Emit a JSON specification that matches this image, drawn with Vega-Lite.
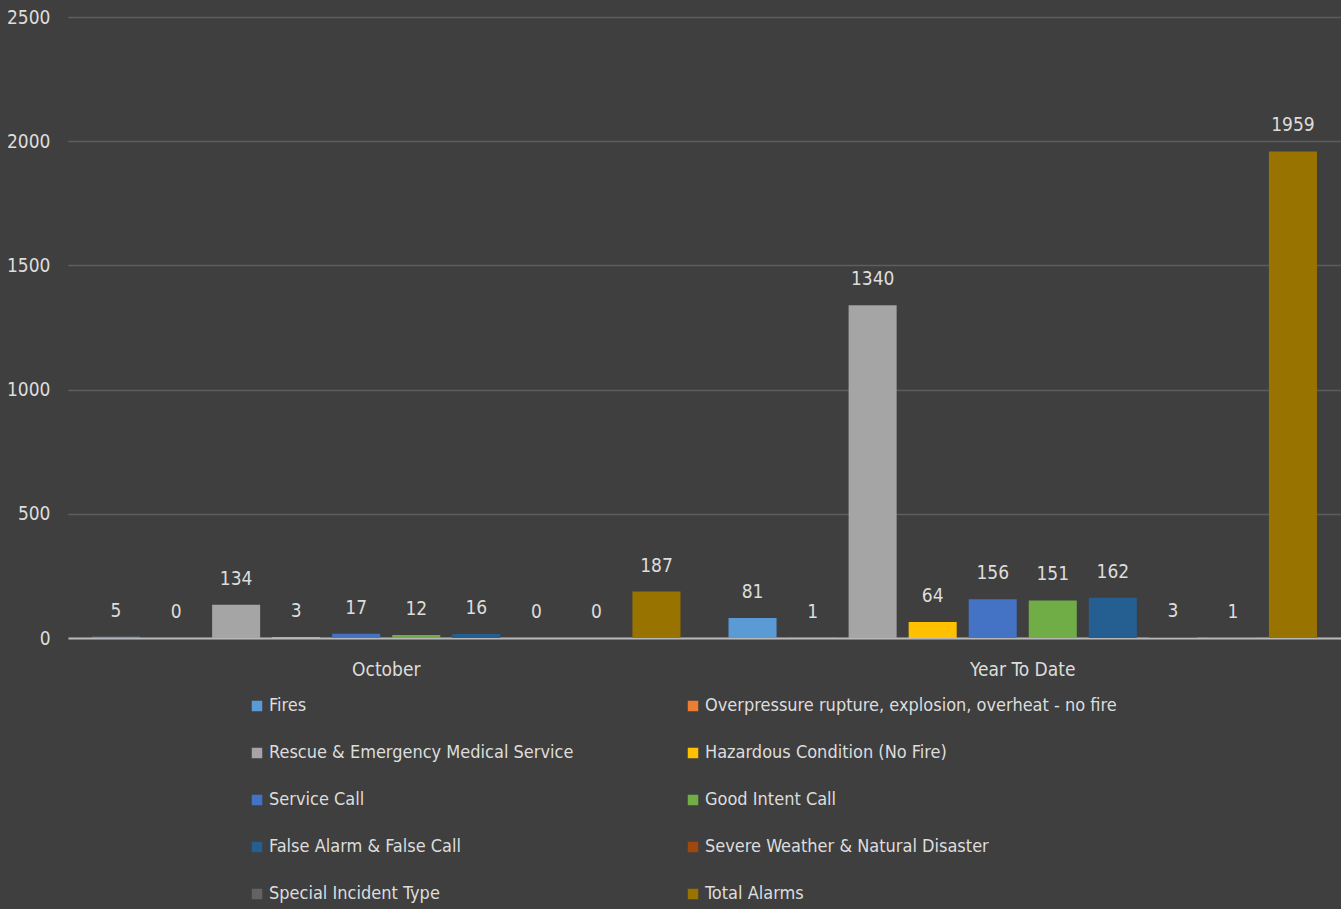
{
  "$schema": "https://vega.github.io/schema/vega-lite/v6.json",
  "autosize": {"type": "none"},
  "width": 1273,
  "height": 621,
  "padding": {"left": 68, "top": 17, "right": 0, "bottom": 271},
  "background": "#3f3f3f",
  "config": {
    "view": {"stroke": null},
    "font": "DejaVu Sans Condensed, sans-serif",
    "axis": {"labelFont": "DejaVu Sans Condensed, sans-serif"},
    "legend": {"labelFont": "DejaVu Sans Condensed, sans-serif"}
  },
  "data": {
    "values": [
      {"period": "October", "type": "Fires", "value": 5},
      {"period": "October", "type": "Overpressure rupture, explosion, overheat - no fire", "value": 0},
      {"period": "October", "type": "Rescue & Emergency Medical Service", "value": 134},
      {"period": "October", "type": "Hazardous Condition (No Fire)", "value": 3},
      {"period": "October", "type": "Service Call", "value": 17},
      {"period": "October", "type": "Good Intent Call", "value": 12},
      {"period": "October", "type": "False Alarm & False Call", "value": 16},
      {"period": "October", "type": "Severe Weather & Natural Disaster", "value": 0},
      {"period": "October", "type": "Special Incident Type", "value": 0},
      {"period": "October", "type": "Total Alarms", "value": 187},
      {"period": "Year To Date", "type": "Fires", "value": 81},
      {"period": "Year To Date", "type": "Overpressure rupture, explosion, overheat - no fire", "value": 1},
      {"period": "Year To Date", "type": "Rescue & Emergency Medical Service", "value": 1340},
      {"period": "Year To Date", "type": "Hazardous Condition (No Fire)", "value": 64},
      {"period": "Year To Date", "type": "Service Call", "value": 156},
      {"period": "Year To Date", "type": "Good Intent Call", "value": 151},
      {"period": "Year To Date", "type": "False Alarm & False Call", "value": 162},
      {"period": "Year To Date", "type": "Severe Weather & Natural Disaster", "value": 3},
      {"period": "Year To Date", "type": "Special Incident Type", "value": 1},
      {"period": "Year To Date", "type": "Total Alarms", "value": 1959}
    ]
  },
  "encoding": {
    "x": {
      "field": "period", "type": "nominal",
      "scale": {"paddingInner": 0, "paddingOuter": 0},
      "axis": {
        "title": null, "labelAngle": 0, "labelFontSize": 19, "labelColor": "#dddddd",
        "ticks": false, "domainColor": "#b8b8b8", "domainWidth": 2, "labelPadding": 22
      }
    },
    "xOffset": {
      "field": "type", "type": "nominal",
      "sort": ["Fires", "Overpressure rupture, explosion, overheat - no fire", "Rescue & Emergency Medical Service", "Hazardous Condition (No Fire)", "Service Call", "Good Intent Call", "False Alarm & False Call", "Severe Weather & Natural Disaster", "Special Incident Type", "Total Alarms"],
      "scale": {"paddingInner": 0.2, "paddingOuter": 0.4}
    },
    "y": {
      "field": "value", "type": "quantitative",
      "scale": {"domain": [0, 2500], "nice": false},
      "axis": {
        "title": null, "values": [0, 500, 1000, 1500, 2000, 2500], "format": "d", "labelFontSize": 19,
        "labelColor": "#dddddd", "ticks": false, "domain": false, "labelPadding": 18,
        "gridColor": "#5e5e5e", "gridWidth": 1.5
      }
    }
  },
  "layer": [
    {
      "mark": {"type": "bar"},
      "encoding": {
        "color": {
          "field": "type", "type": "nominal",
          "sort": ["Fires", "Overpressure rupture, explosion, overheat - no fire", "Rescue & Emergency Medical Service", "Hazardous Condition (No Fire)", "Service Call", "Good Intent Call", "False Alarm & False Call", "Severe Weather & Natural Disaster", "Special Incident Type", "Total Alarms"],
          "scale": {"range": ["#5b9bd5", "#ed7d31", "#a5a5a5", "#ffc000", "#4472c4", "#70ad47", "#255e91", "#9e480e", "#636363", "#997300"]},
          "legend": {
            "title": null, "orient": "none", "legendX": 180, "legendY": 680,
            "columns": 2, "direction": "horizontal", "symbolType": "square", "symbolSize": 110,
            "symbolStrokeWidth": 0, "labelFontSize": 18, "labelColor": "#dddddd",
            "labelLimit": 600, "rowPadding": 29, "columnPadding": 3, "gridAlign": "all",
            "symbolOffset": 0, "labelOffset": 3
          }
        }
      }
    },
    {
      "mark": {"type": "text", "baseline": "bottom", "dy": -16, "fontSize": 19, "color": "#dddddd"},
      "encoding": {"text": {"field": "value", "type": "quantitative"}}
    }
  ]
}
